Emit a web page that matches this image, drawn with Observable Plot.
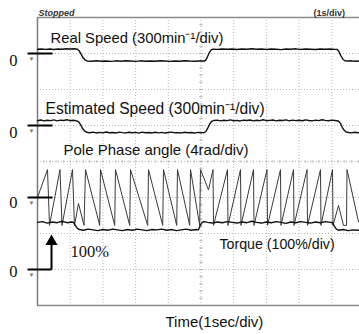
<!DOCTYPE html>
<html><head><meta charset="utf-8">
<script src="https://cdn.jsdelivr.net/npm/d3@7"></script>
<script src="https://cdn.jsdelivr.net/npm/@observablehq/plot@0.6"></script>
<style>
html,body{margin:0;padding:0;background:#fff;overflow:hidden;}
</style></head><body><div id="chart"></div>
<script>
// ---- Channel 1: real speed (min^-1), 300 min^-1/div ----
const realT = [0,0.12,0.25,0.38,0.50,0.62,0.75,0.88,1.00,1.12,1.22,1.28,1.34,1.40,1.46,1.52,1.65,1.80,1.95,2.10,2.25,2.40,2.55,2.70,2.85,3.00,3.15,3.30,3.45,3.60,3.75,3.90,4.05,4.20,4.35,4.50,4.65,4.80,4.95,5.10,5.15,5.20,5.26,5.31,5.36,5.50,5.65,5.80,5.95,6.10,6.25,6.40,6.55,6.70,6.85,7.00,7.15,7.30,7.45,7.60,7.75,7.90,8.05,8.20,8.35,8.50,8.65,8.80,8.95,9.10,9.17,9.22,9.28,9.34,9.40,9.50,9.60,9.70,9.85];
const realV = [36,38,34,37,33,38,36,40,37,39,36,20,-10,-38,-55,-62,-64,-60,-65,-62,-66,-61,-64,-60,-63,-66,-61,-64,-62,-65,-61,-63,-66,-62,-64,-60,-63,-65,-62,-63,-55,-25,10,30,36,34,38,35,37,33,38,36,39,35,37,34,38,36,32,37,35,39,34,37,36,33,38,35,37,34,33,15,-20,-48,-60,-63,-61,-65,-62];

// ---- Channel 2: estimated speed (min^-1), 300 min^-1/div ----
const estT = [0,0.10,0.20,0.30,0.40,0.50,0.60,0.70,0.80,0.90,1.00,1.10,1.20,1.26,1.32,1.38,1.44,1.50,1.60,1.70,1.80,1.90,2.00,2.10,2.20,2.30,2.40,2.50,2.60,2.70,2.80,2.90,3.00,3.10,3.20,3.30,3.40,3.50,3.60,3.70,3.80,3.90,4.00,4.10,4.20,4.30,4.40,4.50,4.60,4.70,4.80,4.90,5.00,5.10,5.15,5.21,5.27,5.33,5.40,5.50,5.60,5.70,5.80,5.90,6.00,6.10,6.20,6.30,6.40,6.50,6.60,6.70,6.80,6.90,7.00,7.10,7.20,7.30,7.40,7.50,7.60,7.70,7.80,7.90,8.00,8.10,8.20,8.30,8.40,8.50,8.60,8.70,8.80,8.90,9.00,9.10,9.20,9.26,9.32,9.38,9.44,9.52,9.60,9.70,9.80,9.85];
const estV = [40,46,38,44,41,47,39,45,42,48,40,44,38,30,5,-25,-45,-56,-60,-55,-62,-57,-61,-54,-60,-58,-63,-55,-59,-62,-56,-60,-57,-63,-55,-60,-58,-62,-56,-61,-57,-63,-58,-55,-61,-59,-62,-56,-60,-58,-63,-57,-60,-58,-50,-20,15,35,42,45,39,44,41,47,40,43,38,45,42,46,39,44,41,48,40,43,46,39,44,42,47,38,45,41,44,40,47,42,39,45,41,48,43,40,45,42,38,20,-15,-40,-54,-58,-61,-56,-60,-58];

// ---- Channel 3: pole phase angle (rad), 4 rad/div ----
const phaseT = [0,0.306,0.367,0.688,0.749,1.070,1.131,1.254,1.422,1.468,1.902,1.927,2.361,2.385,2.820,2.844,3.370,3.394,3.829,3.853,4.257,4.281,4.654,4.679,4.960,4.985,5.229,5.367,5.382,5.810,5.826,6.208,6.223,6.606,6.621,7.018,7.034,7.431,7.446,7.829,7.844,8.242,8.257,8.654,8.670,9.021,9.037,9.205,9.358,9.450,9.465,9.817];
const phaseV = [0,3.1,-3.1,3.1,-3.1,3.1,-3.1,-0.67,-3.1,3.1,-3.1,3.1,-3.1,3.1,-3.1,3.1,-3.1,3.1,-3.1,3.1,-3.1,3.1,-3.1,3.1,-3.1,3.1,0.85,3.1,-3.1,3.1,-3.1,3.1,-3.1,3.1,-3.1,3.1,-3.1,3.1,-3.1,3.1,-3.1,3.1,-3.1,3.1,-3.1,3.1,-3.1,-0.89,-3.1,-3.1,3.1,-2.7];

// ---- Channel 4: torque (%), 100 %/div ----
const torqT = [0,0.15,0.30,0.45,0.60,0.75,0.90,1.05,1.10,1.16,1.22,1.28,1.40,1.55,1.70,1.85,2.00,2.15,2.30,2.45,2.60,2.75,2.90,3.05,3.20,3.35,3.50,3.65,3.80,3.95,4.10,4.25,4.40,4.55,4.70,4.85,4.92,4.97,5.02,5.08,5.20,5.35,5.50,5.65,5.80,5.95,6.10,6.25,6.40,6.55,6.70,6.85,7.00,7.15,7.30,7.45,7.60,7.75,7.90,8.05,8.20,8.35,8.50,8.65,8.80,8.95,9.02,9.08,9.14,9.20,9.35,9.50,9.65,9.85];
const torqV = [131,133,129,132,130,134,130,132,131,122,114,111,109,112,110,108,111,109,112,110,108,111,109,112,110,108,111,110,112,109,111,108,110,112,109,111,110,121,129,133,131,129,132,130,133,131,129,132,130,134,131,129,132,130,133,131,128,132,130,133,131,129,132,130,133,131,130,120,112,109,111,108,110,109];

// ---- labels ----
const channelLabels = ["Real Speed (300min\u207B\u00B9/div)", "Estimated Speed (300min\u207B\u00B9/div)", "Pole Phase angle (4rad/div)", "Torque (100%/div)"];
const zeroLabel = "0";
const torqueRefLabel = "100%";
const xTitle = "Time(1sec/div)";
const statusLabel = "Stopped";
const timebaseLabel = "(1s/div)";

// channel offsets (div) and units per div
const chOffset = [7, 5, 3, 1];
const chPerDiv = [300, 300, 4, 100];

const toRows = (T, V, k) => T.map((t, i) => ({t, y: chOffset[k] + V[i] / chPerDiv[k]}));
const real = toRows(realT, realV, 0);
const est = toRows(estT, estV, 1);
const phase = toRows(phaseT, phaseV, 2);
const torq = toRows(torqT, torqV, 3);

const sans = "Liberation Sans, Arial, sans-serif";
const serif = "Liberation Serif, Times New Roman, serif";
const gridStroke = "#b8b8b8";

const vTicks = d3.range(0, 8.01, 0.2);
const hTicks = d3.range(0, 9.85, 0.2);

const chart = Plot.plot({
  width: 359, height: 334,
  marginLeft: 37, marginRight: 0, marginTop: 17, marginBottom: 29,
  x: {domain: [0, 9.847], axis: null},
  y: {domain: [0, 8], axis: null},
  style: {background: "#fff", overflow: "visible"},
  marks: [
    Plot.ruleX(d3.range(1, 10), {stroke: gridStroke, strokeDasharray: "1,2"}),
    Plot.ruleY(d3.range(1, 8), {stroke: gridStroke, strokeDasharray: "1,2"}),
    Plot.link(vTicks, {x1: 4.95, x2: 5.05, y1: d => d, y2: d => d, stroke: "#aaa", strokeWidth: 1}),
    Plot.link(hTicks, {x1: d => d, x2: d => d, y1: 3.96, y2: 4.04, stroke: "#c4c4c4", strokeWidth: 1}),
    Plot.ruleX([0], {stroke: "#7a7a7a", strokeWidth: 1.5}),
    Plot.ruleY([0, 8], {stroke: "#8a8a8a", strokeWidth: 1.5}),
    // labels
    Plot.text([channelLabels[0]], {x: 0.40, y: 7.414, text: d => d, textAnchor: "start", lineAnchor: "middle", fontSize: 14.8, fontFamily: sans, fill: "#111"}),
    Plot.text([channelLabels[1]], {x: 0.245, y: 5.469, text: d => d, textAnchor: "start", lineAnchor: "middle", fontSize: 15.6, fontFamily: sans, fill: "#111"}),
    Plot.text([channelLabels[2]], {x: 0.795, y: 4.314, text: d => d, textAnchor: "start", lineAnchor: "middle", fontSize: 15, fontFamily: sans, fill: "#111"}),
    Plot.text([channelLabels[3]], {x: 5.566, y: 1.683, text: d => d, textAnchor: "start", lineAnchor: "middle", fontSize: 14.2, fontFamily: sans, fill: "#111"}),
    // traces
    Plot.line(phase, {x: "t", y: "y", stroke: "#3a3a3a", strokeWidth: 1}),
    Plot.line(real, {x: "t", y: "y", stroke: "#111", strokeWidth: 1.4}),
    Plot.line(est, {x: "t", y: "y", stroke: "#111", strokeWidth: 1.4}),
    Plot.line(torq, {x: "t", y: "y", stroke: "#111", strokeWidth: 1.4}),
    // zero markers
    Plot.link(chOffset.slice(0, 3), {x1: -0.306, x2: 0.459, y1: d => d, y2: d => d, stroke: "#000", strokeWidth: 2}),
    Plot.link([1], {x1: -0.306, x2: 0.428, y1: d => d, y2: d => d, stroke: "#000", strokeWidth: 2}),
    Plot.link([1], {x1: 0.428, x2: 0.428, y1: 1, y2: 1.8, stroke: "#000", strokeWidth: 2}),
    Plot.dot([1.78], {x: 0.428, y: d => d, symbol: "triangle", r: 4.5, fill: "#000", stroke: "none"}),
    Plot.text(chOffset, {x: -0.18, y: d => d, dy: 5, text: () => "\u25BE", fontSize: 7, fill: "#777", fontFamily: "DejaVu Sans"}),
    Plot.text([6.806, 4.806, 2.861, 0.944], {x: -0.734, y: d => d, text: () => zeroLabel, textAnchor: "middle", lineAnchor: "middle", fontSize: 16.5, fontFamily: serif, fill: "#111"}),
    Plot.text([torqueRefLabel], {x: 1.01, y: 1.503, text: d => d, textAnchor: "start", lineAnchor: "middle", fontSize: 16.5, fontFamily: serif, fill: "#111"}),
    Plot.text([xTitle], {x: 5.41, y: -0.458, text: d => d, textAnchor: "middle", lineAnchor: "middle", fontSize: 15, fontFamily: sans, fill: "#111"}),
    Plot.text([statusLabel], {x: 0.031, y: 8.122, text: d => d, textAnchor: "start", lineAnchor: "middle", fontSize: 9, fontStyle: "italic", fontWeight: "bold", fontFamily: sans, fill: "#333"}),
    Plot.text([timebaseLabel], {x: 8.44, y: 8.122, text: d => d, textAnchor: "start", lineAnchor: "middle", fontSize: 9, fontWeight: "bold", fontFamily: sans, fill: "#333"})
  ]
});
document.getElementById("chart").append(chart);
</script>
</body></html>
